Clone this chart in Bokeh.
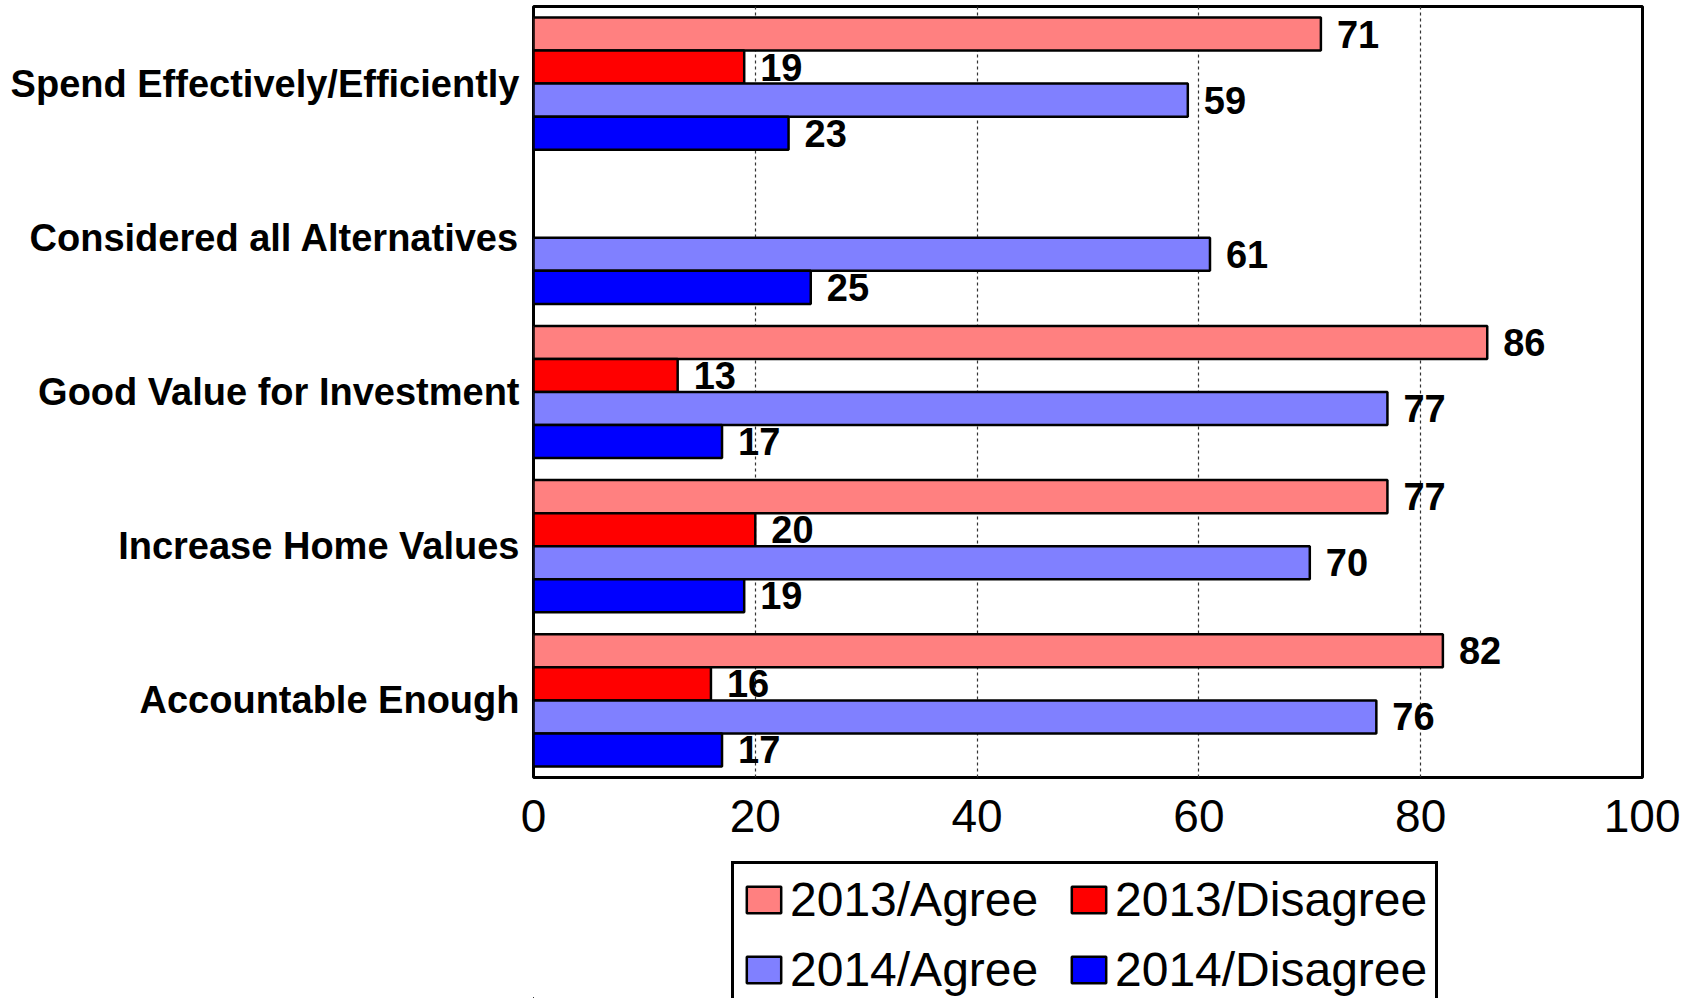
from bokeh.plotting import figure
from bokeh.models import ColumnDataSource, FactorRange, Legend, LegendItem, Range1d, FixedTicker
from bokeh.layouts import column
from bokeh.transform import dodge
from bokeh.core.properties import value
from bokeh.embed import file_html
from bokeh.resources import INLINE

categories = ["Spend Effectively/Efficiently", "Considered all Alternatives",
              "Good Value for Investment", "Increase Home Values", "Accountable Enough"]
series_names = ["2013/Agree", "2013/Disagree", "2014/Agree", "2014/Disagree"]
agree_2013 = [71, None, 86, 77, 82]
disagree_2013 = [19, None, 13, 20, 16]
agree_2014 = [59, 61, 77, 70, 76]
disagree_2014 = [23, 25, 17, 19, 17]
x_ticks = [0, 20, 40, 60, 80, 100]

series_values = [agree_2013, disagree_2013, agree_2014, disagree_2014]
colors = ["#FF8080", "#FF0000", "#8080FF", "#0000FF"]

FONT = "Liberation Sans"
bar_h = 3.0 / 14.0
offsets = [1.5 * bar_h, 0.5 * bar_h, -0.5 * bar_h, -1.5 * bar_h]

W = 1680
H1 = 852
H2 = 146

p = figure(width=W, height=H1, output_backend="svg", toolbar_location=None,
           y_range=FactorRange(factors=list(reversed(categories))),
           x_range=Range1d(0, 100),
           min_border_left=533, min_border_right=38, min_border_top=6, min_border_bottom=75)

p.outline_line_color = "black"
p.outline_line_width = 3
p.background_fill_color = "white"
p.border_fill_color = "white"

p.ygrid.grid_line_color = None
p.xgrid.grid_line_color = "#333333"
p.xgrid.grid_line_dash = "3 3"
p.xgrid.grid_line_width = 1.2
p.xaxis.ticker = FixedTicker(ticks=x_ticks)

for ax in (p.xaxis[0], p.yaxis[0]):
    ax.axis_line_color = None
    ax.major_tick_line_color = None
    ax.minor_tick_line_color = None
    ax.major_tick_in = 0
    ax.major_tick_out = 0
    ax.major_label_text_font = FONT
    ax.major_label_text_color = "black"

p.xaxis.major_label_text_font_size = "46px"
p.xaxis.major_label_standoff = 22
p.yaxis.major_label_text_font_size = "38px"
p.yaxis.major_label_text_font_style = "bold"
p.yaxis.major_label_standoff = 14

for name, vals, col, off in zip(series_names, series_values, colors, offsets):
    cats = [c for c, v in zip(categories, vals) if v is not None]
    vv = [v for v in vals if v is not None]
    src = ColumnDataSource(dict(cat=cats, val=vv, lab=[str(v) for v in vv]))
    p.hbar(y=dodge("cat", off, range=p.y_range), right="val", left=0, height=bar_h,
           source=src, fill_color=col, line_color="black", line_width=2.5)
    p.text(x="val", y=dodge("cat", off, range=p.y_range), text="lab", source=src,
           x_offset=16, text_baseline="middle", text_align="left",
           text_font=value(FONT), text_font_size="38px", text_font_style="bold",
           text_color="black")

# legend panel (separate canvas below the chart, bottom cut off like the reference)
p2 = figure(width=W, height=H2, output_backend="svg", toolbar_location=None,
            x_range=Range1d(0, 1), y_range=Range1d(0, 1),
            x_axis_type=None, y_axis_type=None,
            min_border_left=0, min_border_right=0, min_border_top=0, min_border_bottom=0)
p2.outline_line_color = None
p2.xgrid.grid_line_color = None
p2.ygrid.grid_line_color = None

renderers = {}
for name, col in zip(series_names, colors):
    # swatch-only renderer; its single bar lies far outside the visible ranges
    renderers[name] = p2.hbar(y=[-50], left=[-50], right=[-40], height=0.1, fill_color=col,
                              line_color="black", line_width=2.5)

# column-major fill: first column = Agree items, second column = Disagree items
legend_order = ["2013/Agree", "2014/Agree", "2013/Disagree", "2014/Disagree"]
legend_items = [LegendItem(label=n, renderers=[renderers[n]]) for n in legend_order]

legend = Legend(items=legend_items, ncols=2, location=(198, -10),
                label_text_font=FONT, label_text_font_size="48px", label_text_color="black",
                glyph_width=43, glyph_height=33, label_standoff=5,
                label_width=262, spacing=15, padding=8,
                border_line_color="black", border_line_width=3, border_line_alpha=1.0,
                background_fill_color="white", background_fill_alpha=1.0)
p2.add_layout(legend, "center")

layout = column(p, p2, spacing=0)
open("out.html", "w").write(file_html(layout, INLINE))
